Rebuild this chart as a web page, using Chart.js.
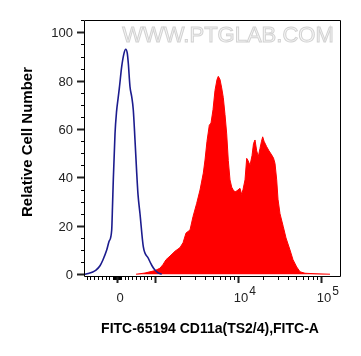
<!DOCTYPE html>
<html>
<head>
<meta charset="utf-8">
<script src="https://cdn.jsdelivr.net/npm/chart.js@4/dist/chart.umd.min.js"></script>
<style>
html,body{margin:0;padding:0;background:#fff;}
canvas{display:block;}
</style>
</head>
<body>
<canvas id="c" width="361" height="356"></canvas>
<script>
// Histogram channels (display channel on the logicle axis, 0..255 across the plot)
const controlChannel = [0,3,7,11,15,18,21.7,24,26.7,27.5,28.3,30,31.5,33.3,34.3,36.7,39,40.7,42.3,43.3,45,46.7,48.3,50,51.7,53,55,58.3,63.3,67,70,73,76.7];
const controlCount   = [0,0.3,0.8,1.7,3.5,6,10,13.5,18.3,28,39,58,67,73.4,76.8,85.8,91.3,93,91.3,87.2,77.5,73.4,67.9,55.5,42,33,25,11.4,6.6,3.5,1.7,0.6,0];

const stainedChannel = [51,55,60,65,70,75,78,81,85,90,95,98,101,105,108,111.7,115,118.3,120,122,124.3,126,128,130,132,133.3,135,136.7,138.3,140,141.7,143.3,145,146.7,148,150,152,155,156.7,158,160,161.7,163,165,167,168.5,170,171.7,173.3,175,176.5,177.7,179,181.7,184,186.7,188.5,190,191.7,193,195,198.3,201,205,208,211.7,215,220,230,245];
const stainedCount   = [0,0.2,0.5,1.0,1.5,2.5,4,6,7.5,9.5,11,13,17,18.3,23.8,29.3,34.8,41.8,47.2,55,61.6,62.5,68,76,80.5,81.8,80.5,77,73,66,58,47,39,36,35,34,34.5,35.5,33,35,39,47.9,47,45,49,54,55.5,51,48.6,52,55,56.8,55,52.7,51,49.3,48,45.8,39,31,25,19.6,15,10,6,3,1,0.4,0.2,0];

// Axis ticks
const yTickValues = [0,20,40,60,80,100];
const xMajorValues = [0,1000,10000,100000];
const xLabelValues = [0,10000,100000];
const xLabelBase = ['0','10','10'];
const xLabelExp  = ['','4','5'];
const xTitle = 'FITC-65194 CD11a(TS2/4),FITC-A';
const yTitle = 'Relative Cell Number';
const watermark = 'WWW.PTGLAB.COM';

// logicle-like transform from fluorescence value to display channel
function toChannel(v){
  if (v >= 1000) return 70 + 83*Math.log10(v/1000);
  return 32 + 38*(v/1000);
}
function minorValues(){
  const out=[];
  for(let k=10;k<100;k+=10){out.push(k);out.push(-k);}
  for(let k=100;k<1000;k+=100){out.push(k);if(k<=800)out.push(-k);}
  for(let k=2000;k<10000;k+=1000)out.push(k);
  for(let k=20000;k<100000;k+=10000)out.push(k);
  return out;
}

const FONT = '"Liberation Sans", Arial, sans-serif';

const flowAxes = {
  id:'flowAxes',
  beforeDatasetsDraw(chart){
    const {ctx} = chart;
    ctx.save();
    ctx.font = '22px ' + FONT;
    ctx.textAlign='center';
    ctx.textBaseline='alphabetic';
    ctx.lineWidth=1;
    ctx.strokeStyle='#d2d2d2';
    ctx.fillStyle='#f7f7f7';
    ctx.fillText(watermark, 228, 42);
    ctx.strokeText(watermark, 228, 42);
    ctx.restore();
  },
  afterDraw(chart){
    const {ctx, chartArea:{left,right,top,bottom}, scales:{x,y}} = chart;
    ctx.save();
    ctx.strokeStyle='#000';
    ctx.lineWidth=1;
    // frame
    ctx.beginPath();
    ctx.moveTo(left-0.5, bottom+0.5); ctx.lineTo(left-0.5, top+0.5);
    ctx.lineTo(right+0.5, top+0.5); ctx.lineTo(right+0.5, bottom+0.5);
    ctx.lineTo(left-0.5, bottom+0.5);
    ctx.stroke();
    // y minor ticks
    for(let v=0; v<=105; v+=5){
      const py = Math.round(y.getPixelForValue(v))+0.5;
      ctx.beginPath(); ctx.moveTo(left-4, py); ctx.lineTo(left-1, py); ctx.stroke();
    }
    // y major ticks + labels
    ctx.fillStyle='#222';
    ctx.font='13px '+FONT;
    ctx.textAlign='right';
    ctx.textBaseline='middle';
    yTickValues.forEach(v=>{
      const py = Math.round(y.getPixelForValue(v));
      ctx.fillRect(left-8, py-0.5, 7, 2);
      ctx.fillText(String(v), left-12, py+1);
    });
    // x minor ticks
    minorValues().forEach(v=>{
      const px = Math.round(x.getPixelForValue(toChannel(v)))+0.5;
      if(px<left-1||px>right+1) return;
      ctx.beginPath(); ctx.moveTo(px, bottom+1); ctx.lineTo(px, bottom+4); ctx.stroke();
    });
    xMajorValues.forEach(v=>{
      const px = Math.round(x.getPixelForValue(toChannel(v)));
      ctx.fillRect(px-0.5, bottom+1, 2, 6);
    });
    // x labels
    ctx.textBaseline='alphabetic';
    xLabelValues.forEach((v,i)=>{
      const px = x.getPixelForValue(toChannel(v)) + 3;
      ctx.font='13px '+FONT;
      const base = xLabelBase[i];
      const exp = xLabelExp[i];
      const bw = ctx.measureText(base).width;
      if(!exp){
        ctx.textAlign='center';
        ctx.fillText(base, px, 302);
      } else {
        ctx.textAlign='left';
        ctx.fillText(base, px-bw/2, 302);
        ctx.font='12px '+FONT;
        ctx.fillText(exp, px+bw/2+1, 295);
      }
    });
    // titles
    ctx.fillStyle='#000';
    ctx.font='bold 14px '+FONT;
    ctx.textAlign='center';
    ctx.fillText(xTitle, 210, 333);
    ctx.save();
    ctx.translate(32, 142);
    ctx.rotate(-Math.PI/2);
    ctx.font='bold 15px '+FONT;
    ctx.fillText(yTitle, 0, 0);
    ctx.restore();
    ctx.restore();
  }
};

const toPts = (xs, ys) => xs.map((v,i)=>({x:v, y:ys[i]}));

new Chart(document.getElementById('c'), {
  type:'line',
  data:{
    datasets:[
      {
        label:'Control',
        data: toPts(controlChannel, controlCount),
        borderColor:'#1c1c8e',
        borderWidth:1.6,
        fill:false,
        pointRadius:0,
        cubicInterpolationMode:'monotone',
        order:0
      },
      {
        label:'FITC-65194',
        data: toPts(stainedChannel, stainedCount),
        borderColor:'#ff0000',
        backgroundColor:'#ff0000',
        borderWidth:1,
        fill:'origin',
        pointRadius:0,
        tension:0,
        order:1
      }
    ]
  },
  options:{
    responsive:false,
    animation:false,
    devicePixelRatio:1,
    layout:{padding:{left:85, right:21, top:20, bottom:80}},
    plugins:{legend:{display:false}, tooltip:{enabled:false}, title:{display:false}},
    scales:{
      x:{type:'linear', min:0, max:255, display:false},
      y:{type:'linear', min:-0.74, max:105.1, display:false}
    }
  },
  plugins:[flowAxes]
});
</script>
</body>
</html>
